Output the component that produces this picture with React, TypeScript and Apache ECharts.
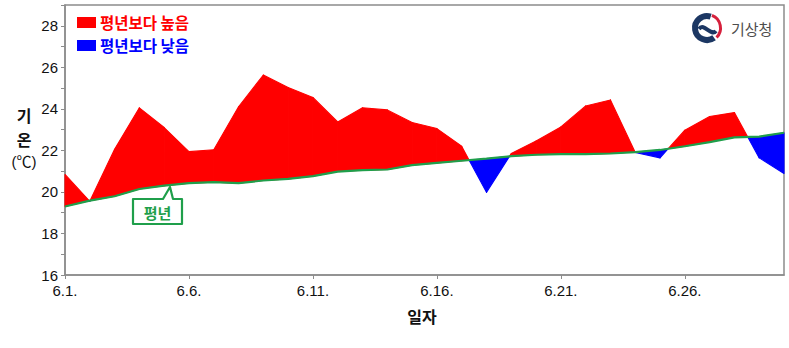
import React, { useEffect, useRef } from "react";
import * as echarts from "echarts";

// June daily mean temperature (°C), day index 0 = 6.1.
const days = Array.from({ length: 30 }, (_, i) => i + 1);
const actual = [
  20.84, 19.55, 22.05, 24.05, 23.1, 21.94, 22.03, 24.1, 25.63, 25.03,
  24.55, 23.37, 24.05, 23.95, 23.34, 23.05, 22.2, 19.98, 21.85, 22.45,
  23.13, 24.14, 24.43, 21.9, 21.64, 22.97, 23.63, 23.82, 21.64, 20.89,
];
const normal = [
  19.3, 19.58, 19.79, 20.14, 20.3, 20.42, 20.47, 20.42, 20.55, 20.63,
  20.76, 20.98, 21.05, 21.08, 21.29, 21.4, 21.5, 21.6, 21.72, 21.79,
  21.82, 21.82, 21.85, 21.92, 22.02, 22.2, 22.4, 22.63, 22.66, 22.85,
];
const yTicks = [16, 18, 20, 22, 24, 26, 28];
const xTickDays = [1, 6, 11, 16, 21, 26];
const legendAbove = "평년보다 높음";
const legendBelow = "평년보다 낮음";

const RED = "#ff0000";
const BLUE = "#0000ff";
const GREEN = "#1f9f4b";
const NUM_FONT = "'Liberation Sans', Arial, 'Noto Sans CJK KR', sans-serif";
const KR_FONT = "'Noto Sans CJK KR', 'Noto Sans', sans-serif";

export default function App() {
  const ref = useRef<HTMLDivElement>(null);
  useEffect(() => {
    if (!ref.current) return;
    const chart = echarts.init(ref.current, undefined, { renderer: "svg" });
    const N = actual.length;

    const renderItem = (_params: any, api: any) => {
      const i = api.value(0) as number;
      if (i >= N - 1) return null;
      const a0 = actual[i], a1 = actual[i + 1];
      const n0 = normal[i], n1 = normal[i + 1];
      const d0 = a0 - n0, d1 = a1 - n1;
      const pt = (x: number, y: number) => api.coord([x, y]);
      const children: any[] = [];
      const poly = (pts: number[][], color: string) =>
        children.push({
          type: "polygon",
          shape: { points: pts },
          style: { fill: color, stroke: color, lineWidth: 1.1, lineJoin: "round" },
        });
      if (d0 * d1 >= 0) {
        const color = d0 + d1 >= 0 ? RED : BLUE;
        poly([pt(i, n0), pt(i, a0), pt(i + 1, a1), pt(i + 1, n1)], color);
      } else {
        const t = d0 / (d0 - d1);
        const cx = i + t;
        const cy = n0 + t * (n1 - n0);
        poly([pt(i, n0), pt(i, a0), pt(cx, cy)], d0 > 0 ? RED : BLUE);
        poly([pt(cx, cy), pt(i + 1, a1), pt(i + 1, n1)], d1 > 0 ? RED : BLUE);
      }
      return { type: "group", children };
    };

    const txt = (x: number, y: number, text: string, fill: string, font: string, align = "center") => ({
      type: "text", x, y, z: 11,
      style: { text, fill, font, align, verticalAlign: "middle" },
    });

    chart.setOption({
      animation: false,
      grid: {
        left: 65,
        right: 5,
        top: 5,
        bottom: 73,
        show: true,
        borderColor: "#8c8c8c",
        borderWidth: 1.5,
        backgroundColor: "transparent",
      },
      xAxis: {
        type: "value",
        min: 0,
        max: 29,
        interval: 5,
        axisLine: { show: true, lineStyle: { color: "#8c8c8c", width: 1.5 } },
        axisTick: { show: true, length: 4, lineStyle: { color: "#8c8c8c" } },
        splitLine: { show: false },
        axisLabel: {
          margin: 8,
          fontSize: 15,
          color: "#111",
          fontFamily: NUM_FONT,
          showMaxLabel: false,
          formatter: (v: number) =>
            xTickDays.includes(v + 1) ? `6.${days[v]}.` : "",
        },
      },
      yAxis: {
        type: "value",
        min: 16,
        max: 29,
        interval: 1,
        axisLine: { show: true, lineStyle: { color: "#8c8c8c", width: 1.5 } },
        axisTick: { show: true, length: 4, lineStyle: { color: "#8c8c8c" } },
        splitLine: { show: false },
        axisLabel: {
          margin: 7,
          fontSize: 15,
          color: "#111",
          fontFamily: NUM_FONT,
          formatter: (v: number) => (yTicks.includes(v) ? String(v) : ""),
        },
      },
      series: [
        {
          type: "custom",
          renderItem,
          data: actual.map((v, i) => [i, v]),
          encode: { x: 0, y: 1 },
          z: 2,
          silent: true,
        },
        {
          type: "line",
          data: normal.map((v, i) => [i, v]),
          symbol: "none",
          lineStyle: { color: GREEN, width: 2.2 },
          z: 3,
          silent: true,
        },
      ],
      graphic: [
        // legend
        { type: "rect", left: 77, top: 17, shape: { width: 19, height: 11 }, style: { fill: RED } },
        txt(100, 22, legendAbove, RED, `bold 15.5px ${KR_FONT}`, "left"),
        { type: "rect", left: 77, top: 40, shape: { width: 19, height: 11 }, style: { fill: BLUE } },
        txt(100, 45, legendBelow, BLUE, `bold 15.5px ${KR_FONT}`, "left"),
        // y axis name
        txt(24, 115, "기", "#111", `bold 16px ${KR_FONT}`),
        txt(24, 138.5, "온", "#111", `bold 16px ${KR_FONT}`),
        txt(24, 161, "(℃)", "#111", `15px ${NUM_FONT}`),
        // x axis name
        txt(422, 316, "일자", "#111", `bold 16px ${KR_FONT}`),
        // callout for normal line
        {
          type: "polygon",
          shape: {
            points: [[133, 199], [163, 199], [170, 187], [173, 199], [182, 199], [182, 224], [133, 224]],
          },
          style: { fill: "#fff", stroke: GREEN, lineWidth: 2.2, lineJoin: "round" },
          z: 10,
        },
        txt(157.5, 212, "평년", GREEN, `bold 15px ${KR_FONT}`),
        // KMA logo
        {
          type: "arc", z: 10,
          shape: { cx: 707, cy: 28, r: 12, startAngle: Math.PI * 0.3, endAngle: Math.PI * 1.6, clockwise: true },
          style: { stroke: "#1c3763", lineWidth: 6, fill: "none" },
        },
        {
          type: "arc", z: 10,
          shape: { cx: 707, cy: 28, r: 13.5, startAngle: Math.PI * 1.62, endAngle: Math.PI * 2.25, clockwise: true },
          style: { stroke: "#d6203c", lineWidth: 3, fill: "none" },
        },
        {
          type: "bezierCurve", z: 10,
          shape: { x1: 699, y1: 29, x2: 716, y2: 31, cpx1: 704, cpy1: 22, cpx2: 711, cpy2: 37 },
          style: { stroke: "#1c3763", lineWidth: 4, fill: "none" },
        },
        txt(731, 28, "기상청", "#4d4d4d", `15px ${KR_FONT}`, "left"),
      ],
    });
    return () => chart.dispose();
  }, []);
  return <div ref={ref} style={{ width: 789, height: 348, position: "absolute", left: 0, top: 0 }} />;
}
